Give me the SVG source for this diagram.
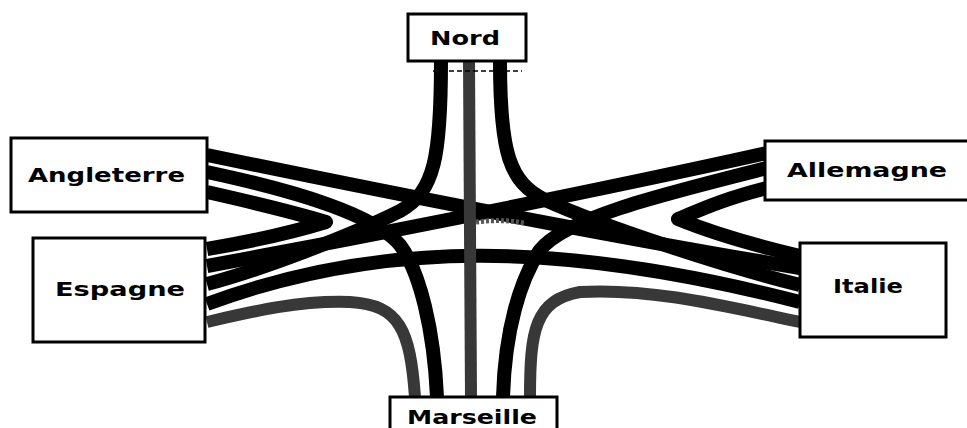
<svg xmlns="http://www.w3.org/2000/svg" width="967" height="428" viewBox="0 0 967 428">
<style>
.ln{fill:none;stroke:#000;stroke-width:14;stroke-linecap:butt;stroke-linejoin:round}
.gr{fill:none;stroke:#383838;stroke-width:12;stroke-linecap:butt}
.box{fill:#fff;stroke:#000;stroke-width:3}
.lbl{font-family:"DejaVu Sans","Liberation Sans",sans-serif;font-weight:bold;font-size:19px;fill:#000}
</style>
<rect width="967" height="428" fill="#fff"/>
<g id="connectors">
  <path class="ln" d="M207,192 C260,204 300,214 326,222 C300,230 260,240 207,249"/>
  <path class="ln" d="M767,188 C720,200 700,210 678,219 C700,228 745,243 800,256"/>
  <path class="ln" d="M207,155 C400,195 600,235 800,268"/>
  <path class="ln" d="M767,153 C600,190 400,230 207,266"/>
  <path class="ln" d="M207,172 C300,192 375,215 400,245 C420,272 434,330 437,397"/>
  <path class="ln" d="M767,168 C660,195 565,218 540,250 C520,280 505,330 503,397"/>
  <path class="ln" d="M441,61 C441,155 435,192 400,211 C350,236 260,270 207,284"/>
  <path class="ln" d="M500,61 C500,155 510,182 545,200 C600,225 720,265 800,285"/>
  <path class="ln" d="M207,304 C380,240 560,240 800,302"/>
  <path class="gr" d="M469,61 L471,397"/>
  <path class="gr" d="M415,397 C410,330 400,305 350,302 C300,300 250,312 207,322"/>
  <path class="gr" d="M530,397 C530,330 535,300 580,292 C650,288 720,305 800,322"/>
  <path fill="none" stroke="#555" stroke-width="5" stroke-dasharray="3 2" d="M476,222 C492,220 508,220 524,223"/>
  <path fill="none" stroke="#000" stroke-width="1.5" stroke-dasharray="5 3" d="M433,71 L522,71"/>
</g>
<g id="nord"><rect class="box" x="408" y="14" width="118" height="47"/><text class="lbl" x="430" y="45" textLength="70" lengthAdjust="spacingAndGlyphs">Nord</text></g>
<g id="angleterre"><rect class="box" x="11" y="138" width="196" height="74"/><text class="lbl" x="28" y="182" textLength="157" lengthAdjust="spacingAndGlyphs">Angleterre</text></g>
<g id="espagne"><rect class="box" x="33" y="238" width="172" height="104"/><text class="lbl" x="55" y="296" textLength="130" lengthAdjust="spacingAndGlyphs">Espagne</text></g>
<g id="allemagne"><rect class="box" x="765" y="141" width="210" height="59"/><text class="lbl" x="787" y="177" textLength="160" lengthAdjust="spacingAndGlyphs">Allemagne</text></g>
<g id="italie"><rect class="box" x="800" y="243" width="146" height="94"/><text class="lbl" x="833" y="293" textLength="70" lengthAdjust="spacingAndGlyphs">Italie</text></g>
<g id="marseille"><rect class="box" x="390" y="397" width="167" height="40"/><text class="lbl" x="407" y="424" textLength="130" lengthAdjust="spacingAndGlyphs">Marseille</text></g>
</svg>
